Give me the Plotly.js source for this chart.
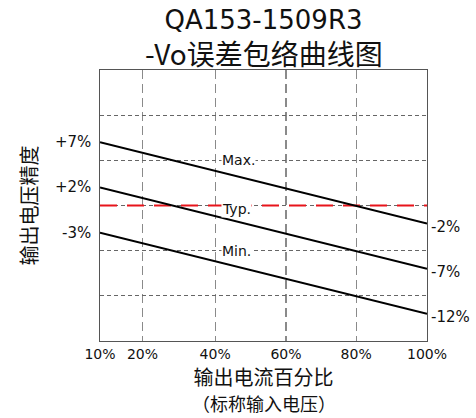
<!DOCTYPE html>
<html>
<head>
<meta charset="utf-8">
<script src="https://cdn.plot.ly/plotly-3.0.1.min.js"></script>
<style>html,body{margin:0;padding:0;background:#fff;}#chart{width:476px;height:418px;}</style>
</head>
<body>
<div id="chart"></div>
<script>
// ---- data ----
const loadPct = [10, 100];              // output current percentage (endpoints)
const maxLine = [7, -2];                // Max. envelope (%)
const typLine = [2, -7];                // Typ. envelope (%)
const minLine = [-3, -12];              // Min. envelope (%)
const refLine = [0, 0];                 // nominal (0%) reference
const xTickVals = [10, 21.7, 41.7, 61.2, 80.5, 100];
const xTickText = ['10%', '20%', '40%', '60%', '80%', '100%'];
const leftLabels = ['+7%', '+2%', '-3%'];
const rightLabels = ['-2%', '-7%', '-12%'];
const curveNames = ['Max.', 'Typ.', 'Min.'];
const curveNameY = [5, 0, -5];

const FONT = 'DejaVu Sans, "Noto Sans CJK SC", sans-serif';
const CJK = '"Noto Sans CJK SC", "DejaVu Sans", sans-serif';

const blk = {color: '#000', width: 2};
const traces = [
  {x: loadPct, y: refLine, mode: 'lines', line: {color: '#e8141b', width: 2, dash: '17px,10px'}, hoverinfo: 'skip'},
  {x: loadPct, y: maxLine, mode: 'lines', line: blk},
  {x: loadPct, y: typLine, mode: 'lines', line: blk},
  {x: loadPct, y: minLine, mode: 'lines', line: blk}
];

const ann = [];
ann.push({text: '-Vo误差包络曲线图', xref: 'paper', yref: 'paper', x: 0.5, y: (341 - 53) / 271,
  xanchor: 'center', yanchor: 'middle', showarrow: false, font: {family: CJK, size: 28, color: '#111'}});
ann.push({text: '（标称输入电压）', xref: 'paper', yref: 'paper', x: 0.5, y: (341 - 403) / 271,
  xanchor: 'center', yanchor: 'middle', showarrow: false, font: {family: CJK, size: 18, color: '#111'}});
const lines = [maxLine, typLine, minLine];
lines.forEach((ln, i) => {
  ann.push({text: leftLabels[i], x: loadPct[0], y: ln[0], xref: 'x', yref: 'y', xanchor: 'right', yanchor: 'middle',
    xshift: -7, showarrow: false, font: {family: FONT, size: 15, color: '#111'}});
  ann.push({text: rightLabels[i], x: loadPct[1], y: ln[1], xref: 'x', yref: 'y', xanchor: 'left', yanchor: 'middle',
    xshift: 2, yshift: -3, showarrow: false, font: {family: FONT, size: 15, color: '#111'}});
  ann.push({text: curveNames[i], x: 43.3, y: curveNameY[i], xref: 'x', yref: 'y', xanchor: 'left', yanchor: 'middle',
    yshift: i === 1 ? -3 : 0, showarrow: false, bgcolor: '#fff', borderpad: 0,
    font: {family: FONT, size: 14, color: '#111'}});
});

const layout = {
  width: 476, height: 418,
  margin: {l: 100, r: 49, t: 70, b: 77},
  paper_bgcolor: '#fff', plot_bgcolor: '#fff',
  showlegend: false,
  title: {text: 'QA153-1509R3', x: 0.5, xref: 'paper', y: 1 - 20 / 418, yref: 'container', yanchor: 'middle',
    font: {family: FONT, size: 26, color: '#111'}},
  xaxis: {
    range: [10, 100], tickmode: 'array', tickvals: xTickVals, ticktext: xTickText,
    showgrid: true, gridcolor: '#8a8a8a', gridwidth: 1.3, griddash: '9px,5px',
    showline: true, mirror: true, linecolor: '#555', linewidth: 1.3,
    zeroline: false, ticks: '', ticklen: 0,
    tickfont: {family: FONT, size: 14, color: '#111'},
    title: {text: '输出电流百分比', standoff: 8, font: {family: CJK, size: 20, color: '#111'}}
  },
  yaxis: {
    range: [-15, 15], dtick: 5, tick0: 0, showticklabels: false, ticks: '',
    showgrid: true, gridcolor: '#666', gridwidth: 1, griddash: '4px,3px',
    showline: true, mirror: true, linecolor: '#555', linewidth: 1.3,
    zeroline: false,
    title: {text: '输出电压精度', standoff: 55, font: {family: CJK, size: 20, color: '#111'}}
  },
  annotations: ann
};

Plotly.newPlot('chart', traces, layout, {displayModeBar: false, staticPlot: true});
</script>
</body>
</html>
